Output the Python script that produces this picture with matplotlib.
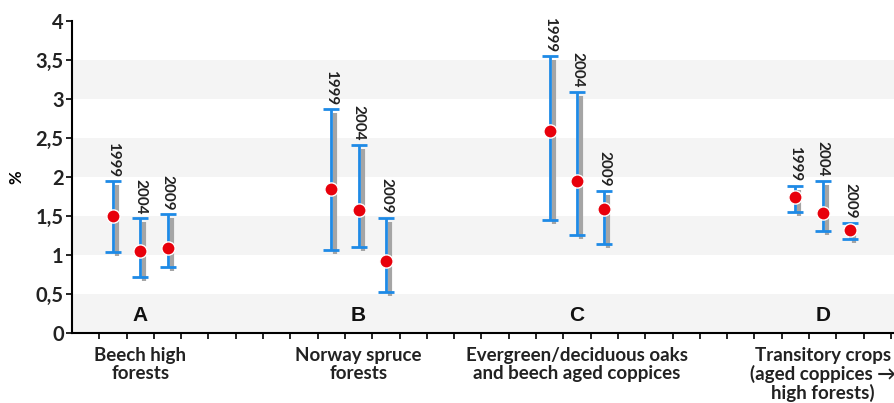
import matplotlib
matplotlib.use('Agg')
import matplotlib.pyplot as plt
import matplotlib.transforms as mtransforms
import numpy as np

# data
years = ['1999', '2004', '2009']
groups = ['A', 'B', 'C', 'D']
group_names = ['Beech high\nforests',
               'Norway spruce\nforests',
               'Evergreen/deciduous oaks\nand beech aged coppices',
               'Transitory crops\n(aged coppices \u2192\nhigh forests)']
means = [[1.50, 1.05, 1.09],
         [1.84, 1.58, 0.92],
         [2.59, 1.95, 1.59],
         [1.75, 1.54, 1.32]]
lows = [[1.04, 0.72, 0.85],
        [1.06, 1.10, 0.52],
        [1.45, 1.26, 1.14],
        [1.55, 1.31, 1.20]]
highs = [[1.95, 1.47, 1.52],
         [2.87, 2.41, 1.48],
         [3.55, 3.09, 1.82],
         [1.89, 1.95, 1.41]]
ytick_vals = [0, 0.5, 1, 1.5, 2, 2.5, 3, 3.5, 4]
ytick_labels = ['0', '0,5', '1', '1,5', '2', '2,5', '3', '3,5', '4']

# layout: slot where each group starts on the categorical axis
group_start = [1, 9, 17, 26]

fig = plt.figure(figsize=(8.95, 4.03), dpi=100)
ax = fig.add_axes([72 / 895, 70 / 403, 823 / 895, 312 / 403])
ax.set_xlim(-0.5, 29.65)
ax.set_ylim(0, 4)

# alternating bands
for y0 in [0, 1, 2, 3]:
    ax.axhspan(y0, y0 + 0.5, color='#f4f4f4', zorder=0, lw=0)

shadow = mtransforms.offset_copy(ax.transData, fig=fig, x=4, y=-4, units='dots')

for g in range(len(groups)):
    xs = np.arange(3) + group_start[g]
    m = np.array(means[g])
    lo = np.array(lows[g])
    hi = np.array(highs[g])
    ax.vlines(xs, lo, hi, colors='#a5a5a5', lw=3, transform=shadow, zorder=2)
    ax.errorbar(xs, m, yerr=[m - lo, hi - m], fmt='none', ecolor='#1e8ae6',
                elinewidth=2, capsize=6, capthick=2, zorder=3)
    ax.plot(xs, m, 'o', color='#e8000b', mec='white', mew=1, ms=9.5, zorder=4)
    for x, h, yr in zip(xs, hi, years):
        ax.annotate(yr, (x, h), xytext=(0, 3), textcoords='offset points',
                    rotation=270, ha='center', va='bottom', fontsize=11,
                    fontweight='bold', family='Lato', color='#222222')
    ax.text(group_start[g] + 1, 0.22, groups[g], ha='center', va='center',
            fontsize=15, fontweight='bold', family='Liberation Sans',
            color='#111111')
    ax.text(group_start[g] + 1, -0.18, group_names[g], ha='center', va='top',
            fontsize=13.5, fontweight='bold', family='Lato', linespacing=1.05,
            color='#222222', clip_on=False)

ax.set_xticks(np.arange(1, 31) - 0.5)
ax.set_xticklabels([])
ax.tick_params(axis='x', length=4, width=1.2, direction='out')
ax.set_yticks(ytick_vals)
ax.set_yticklabels(ytick_labels, fontsize=14.5, fontweight='bold', family='Lato',
                   color='#222222')
ax.tick_params(axis='y', length=4, width=1.2, direction='out', pad=2)
ax.set_ylabel('%', fontsize=12, fontweight='bold', family='Lato', labelpad=8)

for s in ['top', 'right']:
    ax.spines[s].set_visible(False)
for s in ['left', 'bottom']:
    ax.spines[s].set_linewidth(1.5)

fig.savefig('out.png', dpi=100)
